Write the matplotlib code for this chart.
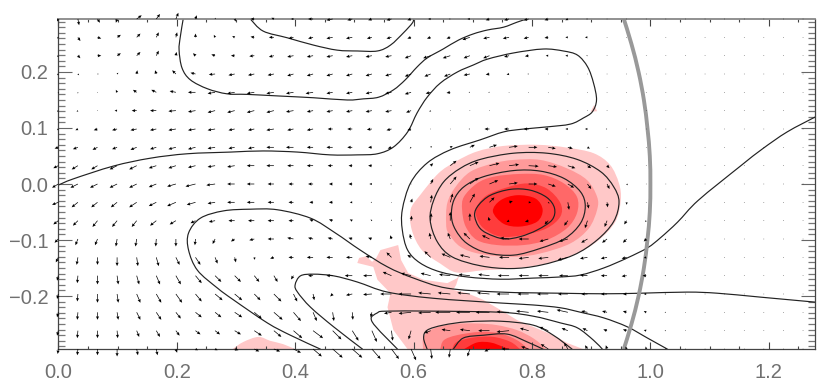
import numpy as np
import matplotlib
matplotlib.use("Agg")
import matplotlib.pyplot as plt
from matplotlib.path import Path
from matplotlib.patches import PathPatch

grid_x = np.arange(39) * 0.0331
grid_y = np.array([0.2946, 0.2619, 0.2291, 0.1964, 0.1637, 0.1310, 0.0982, 0.0655, 0.0327, 0.0,
                   -0.0327, -0.0655, -0.0982, -0.1310, -0.1637, -0.1964, -0.2291, -0.2619, -0.2946])

u_rows = [
    [-1, 1, 2, -1, 4, 3, 2, 1, .5, 1,  -3, -2, -2, -4, -5, -4, -3, -4, -3, -2,  -1, -2, -3, -4, -4, -3, -2, -1, 0, 0,  0, 0, 0, 0, 0, 0, 0, 0, 0],
    [-1, 2, 3, 3, 3, 2, 1, 0, -1, -2,  -3, -4, -4, -4, -5, -5, -4, -4, -3, -3,  -3, -6, -5, -5, -4, -3, -2, -2, 0, 0,  0, 0, 0, 0, 0, 0, 0, 0, 0],
    [-1, 2, 3, 3, 3, 2, .5, -2, -3, -3,  -4, -4, -5, -5, -5, -5, -5, -5, -5, -6,  -6, -5, -5, -4, -3, -2, -2, -1, 0, 0,  0, 0, 0, 0, 0, 0, 0, 0, 0],
    [-1, 1, 1, 1, .5, -1, -3, -4, -5, -5,  -5, -5, -5, -5, -5, -5, -5, -5, -5, -5,  -5, -5, -3, -2, -1, 0, 0, 0, 0, 0,  0, 0, 0, 0, 0, 0, 0, 0, 0],
    [0, 0, 0, -1, -3, -4, -5, -6, -6, -6,  -6, -6, -6, -6, -5, -5, -5, -5, -5, -4,  -3, -1, -1, 0, 0, 0, 0, 0, 0, 0,  0, 0, 0, 0, 0, 0, 0, 0, 0],
    [-1, -1, 0, -2, -4, -5, -6, -6, -6, -6,  -6, -6, -6, -5, -5, -5, -5, -5, -4, -1,  0, 0, 0, 0, 0, 0, 0, 0, 0, 0,  0, 0, 0, 0, 0, 0, 0, 0, 0],
    [-1, -2, -3, -4, -5, -5, -6, -6, -6, -5,  -5, -6, -5, -5, -4, -4, -4, -4, -3, 0,  0, -1, -4, -4, -4, -3, -2, -2, -1, 0,  0, 0, 0, 0, 0, 0, 0, 0, 0],
    [-3, -4, -4, -4, -5, -5, -6, -6, -6, -5,  -5, -6, -6, -5, -5, -4, -3, -3, -1, 1,  2, 4, 6, 7, 7, 6, 4, 2, 0, 0,  0, 0, 0, 0, 0, 0, 0, 0, 0],
    [-4, -5, -5, -6, -6, -6, -6, -6, -6, -6,  -6, -6, -5, -5, -4, -3, -3, -1, 0, 2,  5, 7, 8, 8, 8, 7, 6, 3, 2, 0,  0, 0, 0, 0, 0, 0, 0, 0, 0],
    [-5, -6, -6, -6, -6, -6, -7, -8, -7, -6,  -6, -5, -4, -4, -3, -3, -2, -1, 0, 2,  5, 7, 7, 7, 7, 6, 5, 3, 2, 1,  0, 0, 0, 0, 0, 0, 0, 0, 0],
    [-5, -5, -5, -5, -6, -6, -7, -7, -6, -6,  -6, -5, -4, -3, -3, -2, -1, 0, 1, 1,  2, 4, 4, 3, 2, 1, 1, 1, .5, 0,  0, 0, 0, 0, 0, 0, 0, 0, 0],
    [-4, -4, -4, -4, -4, -5, -5, -4, -5, -5,  -5, -5, -4, -3, -3, -2, -1, 0, .5, .5,  0, 0, -1, -2, -3, -3, -3, -2, -2, -2,  -1, -.5, 0, 0, 0, 0, 0, 0, 0],
    [-3, -2, -2, -1, -1, -.5, 0, -.5, -2, -3,  -4, -5, -5, -4, -4, -3, -3, -1, -1, -1,  -2, -5, -6, -7, -8, -7, -7, -5, -4, -3,  -2, -1, 0, 0, 0, 0, 0, 0, 0],
    [-2, -1, 0, 0, 1, 2, 3, 4, 2, 1,  .5, -3, -4, -5, -5, -5, -5, -4, -3, -5,  -7, -8, -8, -8, -8, -8, -8, -6, -5, -4,  -2, -1, 0, 0, 0, 0, 0, 0, 0],
    [-1, -.5, 0, 1, 2, 3, 4, 5, 5, 5,  4, 3, -2, -4, -5, -6, -7, -7, -8, -8,  -9, -9, -9, -9, -8, -8, -7, -6, -5, -4,  -3, -1, 0, 0, 0, 0, 0, 0, 0],
    [-1, -.5, 0, 1, 3, 4, 5, 5, 6, 6,  5, 6, 3, 1, -2, -5, -7, -9, -10, -10,  -10, -10, -10, -10, -9, -9, -8, -5, -5, -3,  -2, -1, 0, 0, 0, 0, 0, 0, 0],
    [-1, -.5, 0, 1, 3, 4, 4, 5, 5, 6,  6, 7, 6, 3, 1, .5, -1, -6, -10, -10,  -12, -11, -11, -10, -10, -9, -9, -5, -4, -3,  -2, -1, 0, 0, 0, 0, 0, 0, 0],
    [-1, -.5, 0, .5, 2, 3, 3, 4, 4, 5,  6, 6, 7, 8, 7, 5, 4, 1, -2, -5,  -7, -8, -9, -10, -7, -7, -5, -4, -3, -3,  -2, -1, 0, 0, 0, 0, 0, 0, 0],
    [-.5, -.5, 0, 0, 1, 1, 1, 2, 2, 3,  4, 5, 6, 7, 8, 8, 7, 6, 4, 1,  -1, -2, -4, -6, -6, -6, -3, -2, -1, -1,  -.5, 0, 0, 0, 0, 0, 0, 0, 0],
]
v_rows = [
    [-2, -5, -3, -3, 3, 4, 5, 3, 1, -2,  0, 1, 0, 0, -1, -1, -1, -1, -1, 0,  0, 0, -1, -1, -1, -1, -1, 0, 0, 0,  0, 0, 0, 0, 0, 0, 0, 0, 0],
    [-1, -3, -1, 2, 3, 4, 4, 3, 2, 1,  .5, 0, -1, -1, -1, -1, -1, -1, -1, -1,  -1, -2, -1, -1, -1, -.5, 0, 0, 0, 0,  0, 0, 0, 0, 0, 0, 0, 0, 0],
    [-1, -2, 0, 2, 3, 4, 3, 2, 1, 0,  -.5, -1, -1, -1, -1, -1, -1, -1, -2, -2,  -2, -2, -2, -1, -.5, 0, 0, 0, 0, 0,  0, 0, 0, 0, 0, 0, 0, 0, 0],
    [-1, -1, 0, 1, 3, 3, 3, 1, -.5, -1,  -1, -1, -1.5, -1.5, -1.5, -1.5, -1.5, -1.5, -2, -2,  -2, -1, -.5, -.5, 0, 0, 0, 0, 0, 0,  0, 0, 0, 0, 0, 0, 0, 0, 0],
    [-1, -1, 0, 2, 2, 2, 1, 0, -1, -1,  -1, -1, -1, -1, -1, -1, -1, -1, -1.5, -1,  -.5, 0, 0, 0, 0, 0, 0, 0, 0, 0,  0, 0, 0, 0, 0, 0, 0, 0, 0],
    [-1, -1, 0, 0, 0, 0, -.5, -1, -1.5, -1.5,  -1.5, -1.5, -1, -1, -1, -1, -1, -1, -1.5, -1,  0, 0, 0, 0, 0, 0, 0, 0, 0, 0,  0, 0, 0, 0, 0, 0, 0, 0, 0],
    [-1, -1, -1, -1, -1, -1, -1, -1, -1, -1,  -1, -1, -1, -1, 0, 0, -.5, -1, -1, 0,  0, 0, 0, 0, 0, 0, 0, 0, 0, 0,  0, 0, 0, 0, 0, 0, 0, 0, 0],
    [-1, -1.5, -2, -1.5, -2, -1.5, -1.5, -1.5, -1, -1,  -1, 0, 0, 0, 0, 0, 0, -1, -1, 1,  1, 2, 2, 1, 0, -1, -1, -1, 0, 0,  0, 0, 0, 0, 0, 0, 0, 0, 0],
    [-2, -3, -3, -3, -3, -2, -2, -1.5, -1, -1,  0, 0, 0, 0, 0, 0, 0, 0, -.5, 2,  4, 3, 2, 1, -.5, -1, -2, -2, -2, 0,  0, 0, 0, 0, 0, 0, 0, 0, 0],
    [-3, -3, -3, -3, -3, -2.5, -2, -2, -1, 0,  0, 0, 0, 0, 0, 0, 0, 0, 0, 4,  6, 5, 3, 1, 0, -2, -3, -4, -4, -1,  0, 0, 0, 0, 0, 0, 0, 0, 0],
    [-2, -4, -4, -4, -4, -3, -3, -2, -1, 0,  0, 0, 0, 0, 0, 0, 0, 0, 3, 6,  7, 7, 4, 1, 0, -1, -6, -5, -4, -2,  0, 0, 0, 0, 0, 0, 0, 0, 0],
    [-3, -4, -5, -5, -5, -4, -3, -2, -1, 0,  0, 0, 0, 1, 1, 1, 1, 1, 4, 6,  7, 6, 3, -1, -1, -3, -4, -6, -5, -3,  -1, -.5, 0, 0, 0, 0, 0, 0, 0],
    [-3, -5, -5, -6, -6, -6, -6, -5, -4, -2,  -1, 0, 1, 1, 1, 1, 1, 3, 4, 5,  5, 5, 3, 1, 0, -2, -2, -3, -3, -3,  -2, -1, 0, 0, 0, 0, 0, 0, 0],
    [-4, -6, -6, -7, -7, -7, -6, -6, -5, -4,  -2, -1, 0, 0, 0, 0, 1, 4, 2, 5,  3, 2, 1, 0, -1, -1, -2, -1, -1, -1,  -.5, 0, 0, 0, 0, 0, 0, 0, 0],
    [-4, -6, -7, -7, -7, -7, -7, -6, -5, -5,  -5, -5, -3, 0, 0, 0, 0, 3, 2, 2,  1, 1, 1, 0, 0, 0, 0, .5, 0, -.5,  0, 0, 0, 0, 0, 0, 0, 0, 0],
    [-4, -6, -7, -7, -7, -7, -7, -6, -5, -5,  -5, -6, -6, -5, -2, -1, -.5, 0, 0, 1,  1, 1, 1, 0, 0, 0, 0, 0, 0, 0,  0, 0, 0, 0, 0, 0, 0, 0, 0],
    [-4, -6, -6, -6, -6, -6, -5, -4, -4, -4,  -5, -6, -7, -7, -7, -6, -4, -1, -1, -.5,  0, 0, 0, .5, 1, 1, 2, 1, 1, 1,  1, 0, 0, 0, 0, 0, 0, 0, 0],
    [-4, -6, -6, -6, -5, -5, -4, -3, -3, -3,  -4, -5, -6, -6, -7, -8, -9, -8, -7, -2,  1, 1, 0, -1, 2, 3, 2, 2, 1, 1,  .5, 0, 0, 0, 0, 0, 0, 0, 0],
    [-4, -5, -5, -6, -5, -5, -3, -1, -1, -1,  -2, -2, -3, -6, -7, -7, -8, -8, -9, -8,  -7, -6, -2, 0, 2, 4, 5, 3, 3, 2,  2, 1, 0, 0, 0, 0, 0, 0, 0],
]

# contour lines
line_a = [(.324, .295), (.346, .273), (.387, .261), (.431, .248), (.471, .239), (.505, .2375), (.539, .2375),
          (.561, .248), (.583, .270), (.598, .2875), (.600, .295)]
line_b = [(.211, .295), (.206, .2625), (.204, .239), (.209, .207), (.223, .186), (.252, .170), (.285, .161),
          (.319, .160), (.375, .157), (.431, .154), (.488, .150), (.515, .152), (.541, .155), (.566, .168),
          (.586, .186), (.606, .209), (.623, .225), (.650, .241), (.676, .257), (.701, .268), (.725, .275),
          (.752, .280), (.775, .289), (.792, .295)]
line_c = [(0, -.002), (.025, .009), (.093, .032), (.155, .046), (.218, .054), (.291, .057), (.346, .059),
          (.404, .057), (.459, .052), (.505, .052), (.539, .054), (.566, .066), (.590, .093), (.606, .127),
          (.623, .155), (.645, .180), (.674, .200), (.701, .2125), (.725, .223), (.769, .234), (.819, .241),
          (.853, .2375), (.877, .230), (.894, .209), (.904, .180), (.909, .150), (.902, .129), (.887, .118),
          (.865, .107), (.826, .102), (.785, .098), (.752, .093), (.713, .079), (.662, .061), (.623, .0375),
          (.595, .002), (.581, -.046), (.581, -.082), (.590, -.118), (.611, -.141), (.645, -.157), (.691, -.166),
          (.747, -.170), (.802, -.168), (.848, -.166), (.882, -.1625), (.921, -.150), (.961, -.132), (.995, -.114),
          (1.017, -.096), (1.046, -.068), (1.081, -.029), (1.152, .032), (1.189, .0625), (1.231, .093), (1.279, .120)]
line_e = [(.443, -.295), (.392, -.270), (.353, -.248), (.296, -.207), (.269, -.186), (.235, -.154), (.220, -.118),
          (.220, -.0875), (.240, -.061), (.279, -.048), (.324, -.045), (.370, -.046), (.426, -.061), (.468, -.0875),
          (.510, -.118), (.556, -.148), (.600, -.168), (.657, -.186), (.747, -.193), (.848, -.195), (.921, -.196),
          (.983, -.195), (1.062, -.193), (1.113, -.195), (1.186, -.202), (1.279, -.211)]
line_f = [(.514, -.295), (.465, -.255), (.426, -.220), (.404, -.193), (.400, -.180), (.409, -.164), (.431, -.161),
          (.465, -.164), (.505, -.175), (.556, -.193), (.633, -.204), (.747, -.2125), (.802, -.216), (.848, -.221),
          (.882, -.229), (.921, -.239), (.961, -.255), (.995, -.275), (1.029, -.295)]
line_g = [(.573, -.295), (.530, -.246), (.539, -.230), (.556, -.227), (.633, -.227), (.747, -.229), (.802, -.236),
          (.848, -.248), (.877, -.257), (.904, -.279), (.919, -.295)]
line_h = [(.623, -.295), (.617, -.275), (.623, -.261), (.650, -.252), (.691, -.246), (.747, -.245), (.802, -.252),
          (.836, -.270), (.868, -.295)]
line_i = [(.667, -.295), (.684, -.275), (.718, -.270), (.758, -.268), (.792, -.282), (.819, -.295)]
loop_1 = [(.628, -.064), (.634, -.029), (.651, .004), (.679, .028), (.713, .044), (.769, .055), (.825, .055),
          (.876, .044), (.916, .022), (.938, -.005), (.947, -.032), (.938, -.067), (.910, -.100), (.870, -.127),
          (.814, -.145), (.764, -.151), (.713, -.146), (.665, -.130), (.640, -.103)]
loop_2 = [(.664, -.058), (.668, -.029), (.685, -.005), (.718, .013), (.769, .024), (.814, .023), (.854, .010),
          (.882, -.014), (.890, -.040), (.882, -.070), (.856, -.097), (.814, -.115), (.769, -.127), (.724, -.123),
          (.690, -.106), (.671, -.082)]
loop_3 = [(.703, -.055), (.710, -.0375), (.730, -.020), (.764, -.0095), (.797, -.011), (.825, -.024), (.838, -.043),
          (.834, -.064), (.809, -.082), (.780, -.094), (.752, -.098), (.724, -.088), (.710, -.076)]
open_lines = [line_a, line_b, line_c, line_e, line_f, line_g, line_h, line_i]
closed_lines = [loop_1, loop_2, loop_3]

# filled levels
blob_1 = [(.595, -.046), (.611, -.020), (.642, .019), (.671, .040), (.707, .058), (.752, .068), (.809, .070),
          (.859, .065), (.904, .055), (.932, .034), (.947, .001), (.950, -.029), (.941, -.067), (.913, -.100),
          (.876, -.124), (.825, -.142), (.769, -.151), (.718, -.154), (.673, -.158), (.645, -.142), (.614, -.118),
          (.597, -.082)]
blob_2 = [(.655, -.070), (.657, -.034), (.671, -.005), (.696, .022), (.735, .037), (.769, .043), (.814, .043),
          (.859, .028), (.893, .007), (.910, -.023), (.910, -.046), (.896, -.079), (.865, -.106), (.814, -.124),
          (.769, -.130), (.713, -.125), (.679, -.112), (.659, -.088)]
blob_3 = [(.682, -.046), (.685, -.023), (.707, .001), (.735, .013), (.780, .018), (.820, .016), (.854, .001),
          (.876, -.023), (.876, -.052), (.859, -.079), (.825, -.100), (.786, -.109), (.741, -.109), (.707, -.100),
          (.688, -.076)]
blob_4 = [(.706, -.058), (.707, -.040), (.724, -.020), (.758, -.006), (.792, .001), (.825, -.008), (.848, -.034),
          (.848, -.058), (.825, -.079), (.786, -.091), (.747, -.094), (.718, -.079)]
blob_5 = [(.734, -.049), (.747, -.029), (.775, -.020), (.806, -.026), (.818, -.046), (.809, -.067), (.780, -.076),
          (.752, -.071)]
plume = [(.505, -.141), (.508, -.132), (.520, -.129), (.530, -.139), (.537, -.132), (.544, -.118), (.574, -.109),
         (.579, -.136), (.591, -.159), (.617, -.171), (.657, -.177), (.674, -.168), (.679, -.157), (.672, -.180),
         (.667, -.189), (.691, -.195), (.718, -.207), (.747, -.225), (.775, -.243), (.802, -.255), (.836, -.270),
         (.860, -.284), (.887, -.295), (.590, -.295), (.566, -.261), (.556, -.220), (.561, -.195), (.539, -.171),
         (.532, -.148)]
speck = [(.899, .129), (.905, .141), (.910, .130)]
patch_left = [(.294, -.295), (.3125, -.282), (.338, -.273), (.358, -.280), (.380, -.286), (.400, -.295)]
low_2 = [(.616, -.295), (.617, -.273), (.634, -.258), (.668, -.250), (.707, -.249), (.741, -.252), (.775, -.261),
         (.803, -.276), (.825, -.295)]
low_3 = [(.645, -.295), (.651, -.279), (.673, -.270), (.713, -.264), (.747, -.267), (.775, -.279), (.794, -.295)]
low_4 = [(.665, -.295), (.673, -.282), (.702, -.274), (.735, -.273), (.764, -.282), (.780, -.295)]
low_5 = [(.685, -.295), (.707, -.283), (.730, -.283), (.752, -.291), (.761, -.295)]
level_colors = ["#ffc8c8", "#ff9a9a", "#ff6868", "#ff3c3c", "#ff0000"]

# unit circle
arc_y = [-.295, -.25, -.2, -.15, -.1, -.05, 0, .05, .1, .15, .2, .25, .295]
arc_x = [.955, .968, .980, .989, .995, .999, 1.0, .999, .995, .989, .980, .968, .955]

x_ticks = [0.0, 0.2, 0.4, 0.6, 0.8, 1.0, 1.2]
y_ticks = [-0.2, -0.1, 0.0, 0.1, 0.2]


def smooth_path(points, closed=False):
    # catmull-rom through the read points, as bezier segments
    p = np.array(points, dtype=float)
    n = len(p)
    verts = [p[0]]
    codes = [Path.MOVETO]
    last = n if closed else n - 1
    for i in range(last):
        if closed:
            p0, p1, p2, p3 = p[(i - 1) % n], p[i], p[(i + 1) % n], p[(i + 2) % n]
        else:
            p0, p1, p2, p3 = p[max(i - 1, 0)], p[i], p[i + 1], p[min(i + 2, n - 1)]
        verts += [p1 + (p2 - p0) / 6, p2 - (p3 - p1) / 6, p2]
        codes += [Path.CURVE4] * 3
    return Path(verts, codes)


fig = plt.figure(figsize=(8.3, 3.84), dpi=100)
ax = fig.add_axes([58.3 / 830, 35 / 384, 756.7 / 830, 330 / 384])

# plume keeps its corners, the round shapes get smoothed
ax.fill(*np.array(plume).T, color=level_colors[0], lw=0, zorder=1)
ax.fill(*np.array(speck).T, color=level_colors[0], lw=0, zorder=1)
filled = [(blob_1, 0, True), (patch_left, 0, False), (low_2, 1, False), (low_3, 2, False), (low_4, 3, False),
          (low_5, 4, False), (blob_2, 1, True), (blob_3, 2, True), (blob_4, 3, True), (blob_5, 4, True)]
for poly, level, closed in filled:
    ax.add_patch(PathPatch(smooth_path(poly, closed), facecolor=level_colors[level], lw=0, zorder=1 + level * 0.1))

for line in open_lines:
    ax.add_patch(PathPatch(smooth_path(line), fill=False, edgecolor="#222222", lw=0.85, zorder=2))
for line in closed_lines:
    ax.add_patch(PathPatch(smooth_path(line, True), fill=False, edgecolor="#222222", lw=0.85, zorder=2))

ax.add_patch(PathPatch(smooth_path(list(zip(arc_x, arc_y))), fill=False, edgecolor="#999999", lw=2.8, zorder=2.5))

gx, gy = np.meshgrid(grid_x, grid_y)
ax.quiver(gx, gy, np.array(u_rows), np.array(v_rows), angles="uv", scale_units="dots", scale=0.8,
          units="dots", width=0.7, headwidth=4.5, headlength=5, headaxislength=4.5, minlength=1,
          pivot="tail", color="black", clip_on=False, zorder=3)

ax.set_xlim(0, 1.278)
ax.set_ylim(-0.2946, 0.2946)
ax.set_xticks(x_ticks)
ax.set_xticklabels(["%.1f" % t for t in x_ticks])
ax.set_xticks(np.arange(0, 1.28, 0.05), minor=True)
ax.set_yticks(y_ticks)
ax.set_yticklabels([("%.1f" % t).replace("-", "\u2212") for t in y_ticks])
ax.set_yticks(np.arange(-0.29, 0.295, 0.01), minor=True)

ax.tick_params(axis="x", which="major", direction="in", top=True, length=5, width=0.8, color="#444444",
               labelsize=14.5, labelcolor="#707070", pad=10)
ax.tick_params(axis="x", which="minor", direction="in", top=True, length=2.5, width=0.8, color="#444444")
ax.tick_params(axis="y", which="major", direction="in", right=True, length=10, width=0.8, color="#666666",
               labelsize=14.5, labelcolor="#707070", pad=7)
ax.tick_params(axis="y", which="minor", direction="in", right=True, length=5, width=0.9, color="#777777")
for lab in ax.get_xticklabels() + ax.get_yticklabels():
    lab.set_family("Liberation Sans")

for name in ["left", "right", "bottom"]:
    ax.spines[name].set_color("#444444")
    ax.spines[name].set_linewidth(0.9)
ax.spines["top"].set_color("#888888")
ax.spines["top"].set_linewidth(1.3)

fig.savefig("out.png", dpi=100)
